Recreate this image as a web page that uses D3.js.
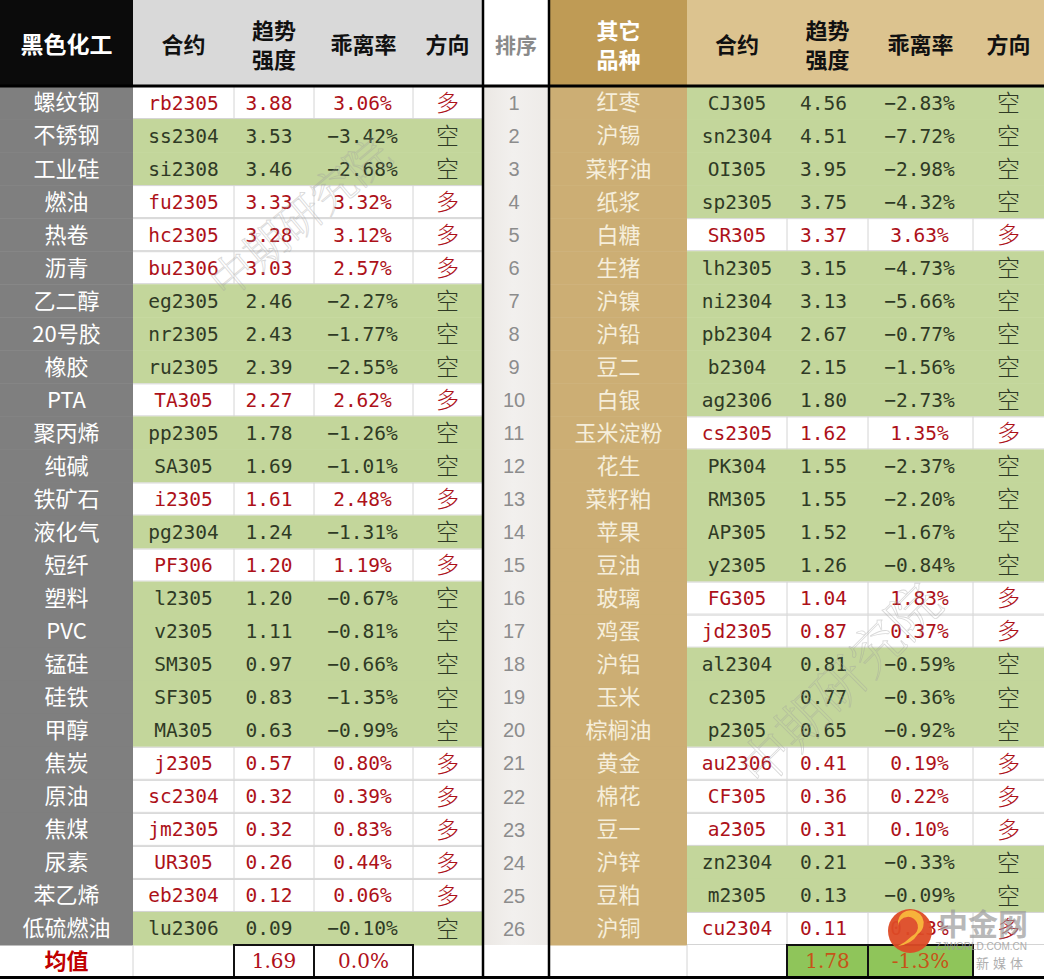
<!DOCTYPE html>
<html><head><meta charset="utf-8">
<script src="https://cdn.jsdelivr.net/npm/d3@7"></script>
<style>body{margin:0;background:#fff;} svg{display:block}</style>
</head><body><div id="chart"></div>
<script>
// ---------- DATA ----------
const leftTitle = "黑色化工";
const rightTitle = ["其它", "品种"];
const headerCols = ["合约", ["趋势", "强度"], "乖离率", "方向"];
const rankTitle = "排序";
const avgLabel = "均值";

const leftNames = ["螺纹钢","不锈钢","工业硅","燃油","热卷","沥青","乙二醇","20号胶","橡胶","PTA","聚丙烯","纯碱","铁矿石","液化气","短纤","塑料","PVC","锰硅","硅铁","甲醇","焦炭","原油","焦煤","尿素","苯乙烯","低硫燃油"];
const leftContracts = ["rb2305","ss2304","si2308","fu2305","hc2305","bu2306","eg2305","nr2305","ru2305","TA305","pp2305","SA305","i2305","pg2304","PF306","l2305","v2305","SM305","SF305","MA305","j2305","sc2304","jm2305","UR305","eb2304","lu2306"];
const leftStrength = [3.88,3.53,3.46,3.33,3.28,3.03,2.46,2.43,2.39,2.27,1.78,1.69,1.61,1.24,1.20,1.20,1.11,0.97,0.83,0.63,0.57,0.32,0.32,0.26,0.12,0.09];
const leftDeviation = [3.06,-3.42,-2.68,3.32,3.12,2.57,-2.27,-1.77,-2.55,2.62,-1.26,-1.01,2.48,-1.31,1.19,-0.67,-0.81,-0.66,-1.35,-0.99,0.80,0.39,0.83,0.44,0.06,-0.10];
const leftDirection = ["多","空","空","多","多","多","空","空","空","多","空","空","多","空","多","空","空","空","空","空","多","多","多","多","多","空"];
const leftAvgStrength = "1.69";
const leftAvgDeviation = "0.0%";

const rightNames = ["红枣","沪锡","菜籽油","纸浆","白糖","生猪","沪镍","沪铅","豆二","白银","玉米淀粉","花生","菜籽粕","苹果","豆油","玻璃","鸡蛋","沪铝","玉米","棕榈油","黄金","棉花","豆一","沪锌","豆粕","沪铜"];
const rightContracts = ["CJ305","sn2304","OI305","sp2305","SR305","lh2305","ni2304","pb2304","b2304","ag2306","cs2305","PK304","RM305","AP305","y2305","FG305","jd2305","al2304","c2305","p2305","au2306","CF305","a2305","zn2304","m2305","cu2304"];
const rightStrength = [4.56,4.51,3.95,3.75,3.37,3.15,3.13,2.67,2.15,1.80,1.62,1.55,1.55,1.52,1.26,1.04,0.87,0.81,0.77,0.65,0.41,0.36,0.31,0.21,0.13,0.11];
const rightDeviation = [-2.83,-7.72,-2.98,-4.32,3.63,-4.73,-5.66,-0.77,-1.56,-2.73,1.35,-2.37,-2.20,-1.67,-0.84,1.83,0.37,-0.59,-0.36,-0.92,0.19,0.22,0.10,-0.33,-0.09,0.13];
const rightDirection = ["空","空","空","空","多","空","空","空","空","空","多","空","空","空","空","多","多","空","空","空","多","多","多","空","空","多"];
const rightAvgStrength = "1.78";
const rightAvgDeviation = "-1.3%";

const ranks = d3.range(1, 27);
const watermark = "中期研究院";

// ---------- LAYOUT ----------
const W = 1044, H = 979;
const headTop = 0, headBottom = 86, bodyBottom = 945, avgBottom = 977;
const L = {name:[0,133], contract:[133,234], strength:[234,314], dev:[314,413], dir:[413,482]};
const R = {name:[550,687], contract:[687,787], strength:[787,868], dev:[868,973], dir:[973,1044]};
const RANK = [484,548];

const C = {
  headBlack:"#0b0b0b", headGray:"#d9d9d9", headGold:"#bf9b55", headTan:"#dcc38f",
  nameGray:"#7f7f7f", nameGold:"#ccae74", green:"#c3d69b", grid:"#d4d4d4",
  red:"#ad1119", dark:"#2f3a25", rank:"#8c8c8c", avgGreen:"#8fc55a", orange:"#c65418"
};
const CJK = "'Noto Sans CJK SC','Noto Sans',sans-serif";
const MONO = "'DejaVu Sans Mono','Liberation Mono',monospace";
const SERIF = "'DejaVu Serif','Liberation Serif',serif";

const y = d3.scaleBand().domain(d3.range(leftNames.length)).range([headBottom, bodyBottom]);
const mid = c => (c[0] + c[1]) / 2;
const fmt2 = d3.format(".2f");

const svg = d3.select("#chart").append("svg").attr("width", W).attr("height", H);
svg.append("rect").attr("width", W).attr("height", H).attr("fill", "#fff");

const defs = svg.append("defs");
const grad = defs.append("linearGradient").attr("id", "rankGrad").attr("x1", "0%").attr("x2", "100%");
grad.append("stop").attr("offset", "0%").attr("stop-color", "#ebe8e4");
grad.append("stop").attr("offset", "45%").attr("stop-color", "#f2f0ee");
grad.append("stop").attr("offset", "100%").attr("stop-color", "#eeebe8");

// ---------- HEADER ----------
const head = svg.append("g");
function rect(g, x0, x1, y0, y1, fill) {
  return g.append("rect").attr("x", x0).attr("y", y0).attr("width", x1 - x0).attr("height", y1 - y0).attr("fill", fill);
}
rect(head, L.name[0], L.name[1], headTop, headBottom, C.headBlack);
rect(head, L.contract[0], L.dir[1], headTop, headBottom, C.headGray);
rect(head, R.name[0], R.name[1], headTop, headBottom, C.headGold);
rect(head, R.contract[0], R.dir[1], headTop, headBottom, C.headTan);

function headText(g, x, lines, fill, size) {
  const arr = Array.isArray(lines) ? lines : [lines];
  const t = g.append("text").attr("x", x).attr("text-anchor", "middle")
    .attr("font-family", CJK).attr("font-weight", "bold").attr("font-size", size || 22).attr("fill", fill);
  const centers = arr.length === 1 ? [45] : [31, 60];
  arr.forEach((s, i) => t.append("tspan").attr("x", x).attr("y", centers[i]).attr("dy", "0.36em").text(s));
}
headText(head, mid(L.name), leftTitle, "#fff", 23);
headText(head, mid(RANK), rankTitle, "#8a8a8a", 21);
headText(head, mid(R.name), rightTitle, "#fff", 22);
const lcols = [L.contract, L.strength, L.dev, L.dir];
const rcols = [R.contract, R.strength, R.dev, R.dir];
headerCols.forEach((h, i) => {
  headText(head, mid(lcols[i]), h, "#111", 22);
  headText(head, mid(rcols[i]), h, "#111", 22);
});

// ---------- BODY ----------
function drawTable(T, names, contracts, strength, deviation, direction, nameFill, nameColor, strengthDx) {
  const rows = names.map((n, i) => ({i, name:n, contract:contracts[i], s:strength[i], d:deviation[i], dir:direction[i]}));
  const g = svg.append("g");
  const rowG = g.selectAll("g.row").data(rows).join("g").attr("class", "row")
    .attr("transform", d => `translate(0,${y(d.i)})`);
  const bh = y.bandwidth();
  rowG.append("rect").attr("x", T.name[0]).attr("width", T.name[1] - T.name[0]).attr("height", bh + 0.5).attr("fill", nameFill);
  rowG.append("rect").attr("x", T.contract[0]).attr("width", T.dir[1] - T.contract[0]).attr("height", bh + 0.5)
    .attr("fill", d => d.dir === "空" ? C.green : "#fff");
  const white = rowG.filter(d => d.dir !== "空");
  [T.strength[0], T.dev[0], T.dir[0]].forEach(x => {
    white.append("line").attr("x1", x).attr("x2", x).attr("y1", 0).attr("y2", bh).attr("stroke", C.grid).attr("stroke-width", 1);
  });
  white.append("line").attr("x1", T.contract[0]).attr("x2", T.dir[1]).attr("y1", 0.5).attr("y2", 0.5).attr("stroke", C.grid);
  white.append("line").attr("x1", T.contract[0]).attr("x2", T.dir[1]).attr("y1", bh - 0.5).attr("y2", bh - 0.5).attr("stroke", C.grid);

  const cy = bh / 2;
  rowG.append("text").attr("x", mid(T.name)).attr("y", cy).attr("dy", "0.36em").attr("text-anchor", "middle")
    .attr("font-family", CJK).attr("font-size", 22).attr("fill", nameColor).text(d => d.name);
  const col = d => d.dir === "空" ? C.dark : C.red;
  rowG.append("text").attr("x", mid(T.contract)).attr("y", cy).attr("dy", "0.36em").attr("text-anchor", "middle")
    .attr("font-family", MONO).attr("font-size", 19.5).attr("fill", col).text(d => d.contract);
  rowG.append("text").attr("x", mid(T.strength) + strengthDx).attr("y", cy).attr("dy", "0.36em").attr("text-anchor", "middle")
    .attr("font-family", MONO).attr("font-size", 19.5).attr("fill", col).text(d => fmt2(d.s));
  rowG.append("text").attr("x", mid(T.dev) - 1).attr("y", cy).attr("dy", "0.36em").attr("text-anchor", "middle")
    .attr("font-family", MONO).attr("font-size", 19.5).attr("fill", col).text(d => fmt2(d.d) + "%");
  rowG.append("text").attr("x", mid(T.dir)).attr("y", cy).attr("dy", "0.36em").attr("text-anchor", "middle")
    .attr("font-family", CJK).attr("font-weight", 300).attr("font-size", 23).attr("fill", col).text(d => d.dir);
  return g;
}
drawTable(L, leftNames, leftContracts, leftStrength, leftDeviation, leftDirection, C.nameGray, "#ffffff", -5);
drawTable(R, rightNames, rightContracts, rightStrength, rightDeviation, rightDirection, C.nameGold, "#f6eedb", -4);

// rank column
rect(svg, RANK[0], RANK[1], headBottom, bodyBottom, "url(#rankGrad)");
svg.append("g").selectAll("text").data(ranks).join("text")
  .attr("x", mid(RANK) - 2).attr("y", (d, i) => y(i) + y.bandwidth() / 2).attr("dy", "0.36em")
  .attr("text-anchor", "middle").attr("font-family", "'Liberation Sans',Arial,sans-serif")
  .attr("font-size", 20).attr("fill", C.rank).text(d => d);

// ---------- AVERAGE ROW ----------
const avg = svg.append("g");
const ay0 = bodyBottom, ay1 = avgBottom, acy = (ay0 + ay1) / 2;
[L.contract[0], R.contract[0], R.strength[0]].forEach(x =>
  avg.append("line").attr("x1", x).attr("x2", x).attr("y1", ay0).attr("y2", ay1).attr("stroke", C.grid));
avg.append("text").attr("x", mid(L.name)).attr("y", acy).attr("dy", "0.36em").attr("text-anchor", "middle")
  .attr("font-family", CJK).attr("font-weight", "bold").attr("font-size", 22).attr("fill", "#c00000").text(avgLabel);
function avgBox(col, txt, fill, color) {
  avg.append("rect").attr("x", col[0]).attr("y", ay0).attr("width", col[1] - col[0]).attr("height", ay1 - ay0)
    .attr("fill", fill).attr("stroke", "#111").attr("stroke-width", 2);
  avg.append("text").attr("x", mid(col)).attr("y", acy).attr("dy", "0.36em").attr("text-anchor", "middle")
    .attr("font-family", SERIF).attr("font-size", 20).attr("fill", color).text(txt);
}
avgBox(L.strength, leftAvgStrength, "#fff", "#b0101a");
avgBox(L.dev, leftAvgDeviation, "#fff", "#b0101a");
avgBox(R.strength, rightAvgStrength, C.avgGreen, C.orange);
avgBox(R.dev, rightAvgDeviation, C.avgGreen, C.orange);

// ---------- THICK LINES ----------
const lines = svg.append("g").attr("stroke", "#000");
lines.append("line").attr("x1", 0).attr("x2", W).attr("y1", headBottom).attr("y2", headBottom).attr("stroke-width", 3);
lines.append("line").attr("x1", 0).attr("x2", W).attr("y1", avgBottom + 0.5).attr("y2", avgBottom + 0.5).attr("stroke-width", 3);
[483, 549].forEach(x => lines.append("line").attr("x1", x).attr("x2", x).attr("y1", 0).attr("y2", H).attr("stroke-width", 2.5));

// ---------- WATERMARKS ----------
const wm = svg.append("g").attr("pointer-events", "none");
[[300, 218, -40, 44], [840, 685, -45, 52]].forEach(([x, yy, a, s]) => {
  wm.append("text").attr("transform", `translate(${x},${yy}) rotate(${a})`).attr("text-anchor", "middle").attr("dy", "0.36em")
    .attr("font-family", "'Noto Serif CJK SC','Noto Sans CJK SC',serif").attr("font-weight", 300)
    .attr("font-size", s).attr("fill", "none").attr("stroke", "#a0a0a0").attr("stroke-width", 0.8)
    .attr("opacity", 0.4).text(watermark);
});
const logo = svg.append("g").attr("pointer-events", "none");
logo.append("circle").attr("cx", 910).attr("cy", 931).attr("r", 22).attr("fill", "#dd4b26").attr("opacity", 0.95);
logo.append("path").attr("d", "M898,926 a10,10 0 1,1 14,10 q-6,6 -14,10 q14,-2 20,-12 a13,13 0 1,0 -20,-8 z")
  .attr("fill", "#f7b23b");
logo.append("text").attr("x", 983).attr("y", 924).attr("dy", "0.36em").attr("text-anchor", "middle")
  .attr("font-family", CJK).attr("font-weight", "bold").attr("font-size", 30).attr("fill", "#9b9b9b").attr("opacity", 0.7).text("中金网");
logo.append("text").attr("x", 1027).attr("y", 950).attr("text-anchor", "end")
  .attr("font-family", "'Liberation Sans',sans-serif").attr("font-size", 10).attr("fill", "#9b9b9b").attr("opacity", 0.8).text("ZJWORLD.COM.CN");
logo.append("text").attr("x", 1027).attr("y", 968).attr("text-anchor", "end")
  .attr("font-family", CJK).attr("font-size", 13).attr("letter-spacing", 4).attr("fill", "#9b9b9b").attr("opacity", 0.8).text("新媒体");
</script></body></html>
